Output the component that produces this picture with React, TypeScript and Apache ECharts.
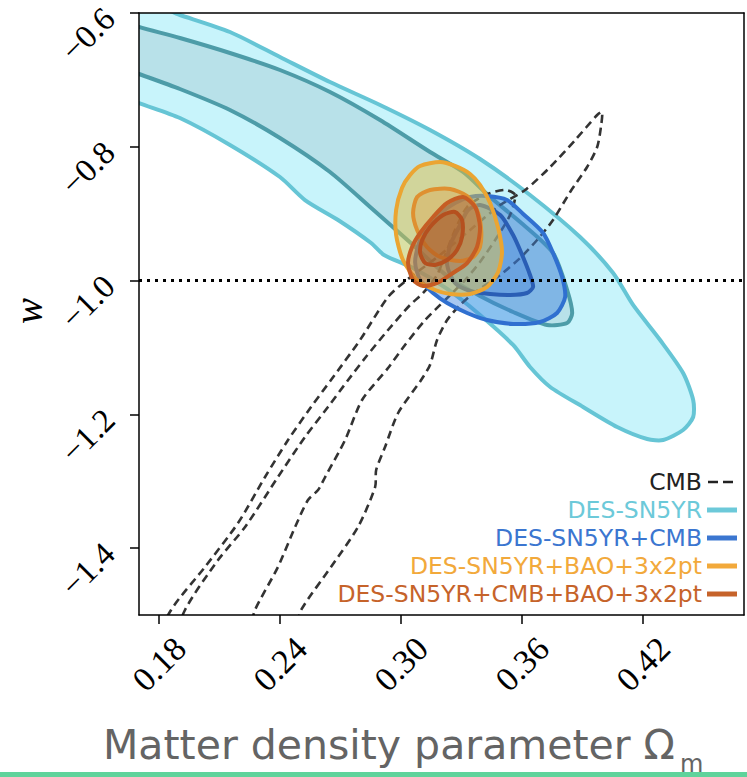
import React, { useEffect, useRef } from 'react';
import * as echarts from 'echarts';

type P = [number, number];

const X_TICKS = [0.18, 0.24, 0.3, 0.36, 0.42];
const Y_TICKS = [-1.4, -1.2, -1.0, -0.8, -0.6];
const X_MIN = 0.17;
const X_MAX = 0.47;
const Y_MIN = -1.5;
const Y_MAX = -0.6;
const W_REF = -1.0;
// the rotated y tick labels sit a little below their ticks (about 0.03 in w)
const Y_LABEL_SHIFT = 0.032;

const LEGEND_NAMES = ['CMB', 'DES-SN5YR', 'DES-SN5YR+CMB', 'DES-SN5YR+BAO+3x2pt', 'DES-SN5YR+CMB+BAO+3x2pt'];
const LEGEND_COLORS = ['#222222', '#6cc9d9', '#3b76d0', '#f2a93b', '#c6632a'];

// DES-SN5YR contours (2 sigma, 1 sigma)
const SN_OUTER: P[] = [
  [0.1606, -0.5731], [0.1903, -0.603], [0.2151, -0.6284], [0.2399, -0.6658], [0.2647, -0.7032], [0.2895, -0.7375],
  [0.3143, -0.7749], [0.3391, -0.8183], [0.3639, -0.8721], [0.3887, -0.9349], [0.4051, -0.9887], [0.415, -1.0365],
  [0.4284, -1.0889], [0.4398, -1.1382], [0.4448, -1.1786], [0.4448, -1.204], [0.4398, -1.2234], [0.4299, -1.2384],
  [0.422, -1.2369], [0.4071, -1.2189], [0.3902, -1.189], [0.3739, -1.1591], [0.3639, -1.1292], [0.3555, -1.0963],
  [0.3391, -1.0515], [0.3228, -1.0126], [0.3059, -0.9812], [0.2915, -0.9618], [0.2851, -0.9439], [0.2687, -0.9095],
  [0.2523, -0.8796], [0.2399, -0.8452], [0.2151, -0.7973], [0.1903, -0.757], [0.17, -0.7346], [0.1507, -0.7121],
];
const SN_INNER: P[] = [
  [0.1507, -0.603], [0.17, -0.6209], [0.1903, -0.6374], [0.2151, -0.6598], [0.2399, -0.6852], [0.2647, -0.7181],
  [0.2895, -0.76], [0.3143, -0.8078], [0.3307, -0.8377], [0.3441, -0.8751], [0.359, -0.9125], [0.3753, -0.9588],
  [0.3823, -1.0141], [0.3848, -1.0485], [0.3823, -1.0635], [0.3724, -1.0664], [0.3555, -1.047], [0.3391, -1.0231],
  [0.3228, -0.9932], [0.3059, -0.9468], [0.2846, -0.89], [0.2647, -0.8377], [0.2399, -0.7869], [0.2151, -0.745],
  [0.1903, -0.7136], [0.17, -0.6912], [0.1507, -0.6703],
];

// CMB contours (dashed)
const CMB_OUTER: P[] = [
  [0.1804, -1.5374], [0.1859, -1.4925], [0.2027, -1.4282], [0.2191, -1.3625], [0.2325, -1.2937], [0.2439, -1.2384],
  [0.2553, -1.189], [0.2652, -1.1487], [0.2796, -1.0889], [0.2935, -1.0246], [0.3034, -0.9977], [0.3193, -0.9618],
  [0.3342, -0.9244], [0.3491, -0.887], [0.3615, -0.8646], [0.3739, -0.8302], [0.3863, -0.7899], [0.3972, -0.7525],
  [0.3996, -0.748], [0.3992, -0.7674], [0.3972, -0.8003], [0.3922, -0.8302], [0.3838, -0.8676], [0.3753, -0.9095],
  [0.3674, -0.9394], [0.359, -0.9663], [0.3491, -0.9917], [0.3367, -1.0171], [0.3292, -1.0365], [0.3228, -1.059],
  [0.3178, -1.0889], [0.3143, -1.1262], [0.3099, -1.1487], [0.2985, -1.198], [0.292, -1.2488], [0.2876, -1.2832],
  [0.2871, -1.3086], [0.2786, -1.3684], [0.2652, -1.4282], [0.2504, -1.4925], [0.2449, -1.5374],
];
const CMB_INNER: P[] = [
  [0.1893, -1.5374], [0.1928, -1.4925], [0.2092, -1.4178], [0.2226, -1.3684], [0.2389, -1.2937], [0.2523, -1.2339],
  [0.2637, -1.189], [0.2737, -1.1487], [0.2821, -1.1158], [0.2935, -1.0739], [0.3044, -1.0365], [0.3109, -1.0186],
  [0.3178, -0.9917], [0.3218, -0.9618], [0.3267, -0.9244], [0.3327, -0.89], [0.3416, -0.8721], [0.3515, -0.8646],
  [0.3565, -0.8721], [0.354, -0.902], [0.3466, -0.9394], [0.3391, -0.9723], [0.3317, -0.9992], [0.3218, -1.0291],
  [0.3119, -1.059], [0.3019, -1.0963], [0.2935, -1.1307], [0.2806, -1.1786], [0.2722, -1.2384], [0.2623, -1.2937],
  [0.2588, -1.3131], [0.2538, -1.3281], [0.2474, -1.3684], [0.2389, -1.4282], [0.2275, -1.4925], [0.2226, -1.5374],
];

// DES-SN5YR+CMB
const SNCMB_OUTER: P[] = [
  [0.3426, -0.8736], [0.3525, -0.8796], [0.3605, -0.9005], [0.3704, -0.9289], [0.3753, -0.9588], [0.3798, -0.9947],
  [0.3813, -1.0246], [0.3773, -1.0485], [0.3689, -1.062], [0.3555, -1.0649], [0.3426, -1.059], [0.3327, -1.0485],
  [0.3228, -1.0336], [0.3158, -1.0186], [0.3094, -0.9992], [0.3069, -0.9723], [0.3094, -0.9394], [0.3168, -0.9065],
  [0.3267, -0.8841], [0.3342, -0.8751],
];
const SNCMB_INNER: P[] = [
  [0.3391, -0.887], [0.3491, -0.902], [0.3555, -0.9319], [0.36, -0.9618], [0.3639, -0.9917], [0.3654, -1.0096],
  [0.3624, -1.0186], [0.354, -1.0216], [0.3441, -1.0201], [0.3342, -1.0156], [0.3267, -1.0037], [0.3228, -0.9767],
  [0.3243, -0.9468], [0.3292, -0.9169], [0.3332, -0.8945],
];

// DES-SN5YR+BAO+3x2pt
const SNBAO_OUTER: P[] = [
  [0.3094, -0.8287], [0.3193, -0.8228], [0.3267, -0.8287], [0.3342, -0.8407], [0.3391, -0.8571], [0.3441, -0.8841],
  [0.3481, -0.9214], [0.35, -0.9573], [0.3481, -0.9872], [0.3426, -1.0096], [0.3342, -1.0201], [0.3243, -1.0201],
  [0.3168, -1.0141], [0.3079, -0.9992], [0.3009, -0.9693], [0.2975, -0.9319], [0.2975, -0.8945], [0.3004, -0.8616],
  [0.3044, -0.8422],
];
const SNBAO_INNER: P[] = [
  [0.3079, -0.8751], [0.3143, -0.8646], [0.3243, -0.8631], [0.3327, -0.8736], [0.3376, -0.8945], [0.3396, -0.9214],
  [0.3391, -0.9498], [0.3357, -0.9648], [0.3292, -0.9708], [0.3193, -0.9648], [0.3128, -0.9498], [0.3079, -0.9244],
  [0.3059, -0.899],
];

// DES-SN5YR+CMB+BAO+3x2pt
const ALL_OUTER: P[] = [
  [0.3307, -0.8751], [0.3367, -0.89], [0.3391, -0.9199], [0.3376, -0.9498], [0.3327, -0.9738], [0.3257, -0.9887],
  [0.3178, -1.0037], [0.3109, -1.0081], [0.3059, -0.9992], [0.3034, -0.9738], [0.3054, -0.9498], [0.3094, -0.9289],
  [0.3158, -0.905], [0.3228, -0.8841],
];
const ALL_INNER: P[] = [
  [0.3267, -0.8975], [0.3302, -0.9095], [0.3302, -0.9349], [0.3277, -0.9543], [0.3228, -0.9693], [0.3168, -0.9767],
  [0.3119, -0.9738], [0.3094, -0.9588], [0.3104, -0.9394], [0.3143, -0.9199], [0.3208, -0.902],
];

type Sty = { fill: string; stroke: string; lineWidth: number; lineDash?: number[] };

function contourSeries(name: string, color: string, contours: P[][], styles: Sty[]) {
  return {
    type: 'custom',
    name,
    coordinateSystem: 'cartesian2d',
    xAxisIndex: 0,
    yAxisIndex: 0,
    clip: true,
    silent: true,
    itemStyle: { color },
    encode: { x: 0, y: 1 },
    data: contours.map((c, i) => {
      const cx = c.reduce((s, p) => s + p[0], 0) / c.length;
      const cy = c.reduce((s, p) => s + p[1], 0) / c.length;
      return [cx, cy, i];
    }),
    renderItem: (params: any, api: any) => {
      const i = api.value(2);
      const pts = contours[i].map((p) => api.coord(p));
      const cs = params.coordSys;
      return {
        type: 'polygon',
        shape: { points: pts, smooth: 0.25 },
        style: { ...styles[i], lineJoin: 'round' },
        clipPath: { type: 'rect', shape: { x: cs.x, y: cs.y, width: cs.width, height: cs.height } },
      };
    },
  };
}

const CMB_ICON = 'path://M0 0Z M30 5Z M1 1.2H11V3.8H1Z M16 1.2H26V3.8H16Z';

export default function App() {
  const ref = useRef<HTMLDivElement>(null);
  useEffect(() => {
    if (!ref.current) return;
    const chart = echarts.init(ref.current, undefined, { renderer: 'svg' });
    const serif = 'Liberation Serif';
    const sans = 'DejaVu Sans';
    const axisCommon = {
      type: 'value',
      z: 10,
      splitLine: { show: false },
      axisLine: { show: true, onZero: false, lineStyle: { color: '#000', width: 1.5 } },
    };
    const option: any = {
      animation: false,
      backgroundColor: '#fff',
      grid: { left: 139, right: 3, top: 13, bottom: 162, outerBoundsMode: 'none' },
      xAxis: [
        {
          ...axisCommon,
          min: X_MIN,
          max: X_MAX,
          position: 'bottom',
          axisTick: { show: true, inside: false, length: 9, customValues: X_TICKS, lineStyle: { color: '#000', width: 1.5 } },
          axisLabel: {
            customValues: X_TICKS,
            rotate: 45,
            align: 'center',
            verticalAlign: 'middle',
            margin: 49,
            fontFamily: serif,
            fontSize: 34,
            color: '#000',
            formatter: (v: number) => v.toFixed(2),
          },
        },
        { ...axisCommon, min: X_MIN, max: X_MAX, position: 'top', axisTick: { show: false }, axisLabel: { show: false } },
      ],
      yAxis: [
        {
          ...axisCommon,
          min: Y_MIN,
          max: Y_MAX,
          position: 'left',
          axisTick: { show: true, inside: false, length: 9, customValues: Y_TICKS, lineStyle: { color: '#000', width: 1.5 } },
          axisLabel: { show: false },
        },
        { ...axisCommon, min: Y_MIN, max: Y_MAX, position: 'right', axisTick: { show: false }, axisLabel: { show: false } },
        {
          type: 'value',
          min: Y_MIN + Y_LABEL_SHIFT,
          max: Y_MAX + Y_LABEL_SHIFT,
          position: 'left',
          offset: 0,
          z: 10,
          splitLine: { show: false },
          axisLine: { show: false },
          axisTick: { show: false },
          axisLabel: {
            customValues: Y_TICKS,
            rotate: 45,
            align: 'center',
            verticalAlign: 'middle',
            margin: 51,
            fontFamily: serif,
            fontSize: 33,
            color: '#000',
            formatter: (v: number) => (v < 0 ? '\u2212' : '') + Math.abs(v).toFixed(1),
          },
        },
      ],
      legend: {
        orient: 'vertical',
        right: 5,
        top: 465,
        align: 'right',
        itemWidth: 30,
        itemHeight: 5,
        itemGap: 4,
        selectedMode: false,
        textStyle: { fontFamily: sans, fontSize: 23.5, lineHeight: 23 },
        data: LEGEND_NAMES.map((n, i) => ({
          name: n,
          icon: i === 0 ? CMB_ICON : 'rect',
          itemStyle: { color: LEGEND_COLORS[i], borderWidth: 0 },
          textStyle: { color: LEGEND_COLORS[i] },
        })),
      },
      series: [
        contourSeries(LEGEND_NAMES[1], LEGEND_COLORS[1], [SN_OUTER, SN_INNER], [
          { fill: '#c8f4fb', stroke: '#66c5d5', lineWidth: 4 },
          { fill: '#b8e1e9', stroke: '#4d9ca8', lineWidth: 4 },
        ]),
        contourSeries(LEGEND_NAMES[0], LEGEND_COLORS[0], [CMB_OUTER, CMB_INNER], [
          { fill: 'none', stroke: '#333333', lineWidth: 2.6, lineDash: [8, 5] },
          { fill: 'none', stroke: '#333333', lineWidth: 2.6, lineDash: [8, 5] },
        ]),
        contourSeries(LEGEND_NAMES[2], LEGEND_COLORS[2], [SNCMB_OUTER, SNCMB_INNER], [
          { fill: 'rgba(60,130,225,0.45)', stroke: '#3070d0', lineWidth: 4 },
          { fill: 'rgba(55,120,215,0.3)', stroke: '#2a5eb5', lineWidth: 4 },
        ]),
        contourSeries(LEGEND_NAMES[3], LEGEND_COLORS[3], [SNBAO_OUTER, SNBAO_INNER], [
          { fill: 'rgba(240,200,60,0.45)', stroke: '#eba532', lineWidth: 4 },
          { fill: 'rgba(225,150,50,0.3)', stroke: '#df9030', lineWidth: 4 },
        ]),
        contourSeries(LEGEND_NAMES[4], LEGEND_COLORS[4], [ALL_OUTER, ALL_INNER], [
          { fill: 'rgba(185,95,40,0.4)', stroke: '#c65d24', lineWidth: 4 },
          { fill: 'rgba(165,80,30,0.35)', stroke: '#b5501f', lineWidth: 4 },
        ]),
        {
          type: 'line',
          name: 'w = -1',
          xAxisIndex: 0,
          yAxisIndex: 0,
          silent: true,
          showSymbol: false,
          data: [[X_MIN, W_REF], [X_MAX, W_REF]],
          lineStyle: { color: '#000', width: 3, type: [3, 5] },
          z: 5,
        },
      ],
      graphic: [
        {
          type: 'text',
          x: 28,
          y: 311,
          rotation: Math.PI / 2,
          style: { text: 'w', font: 'italic 39px "Liberation Serif"', fill: '#000', align: 'center', verticalAlign: 'middle' },
        },
        {
          type: 'text',
          x: 103,
          y: 745,
          style: { text: 'Matter density parameter \u03a9', font: '41px "DejaVu Sans"', fill: '#646464', align: 'left', verticalAlign: 'middle' },
        },
        {
          type: 'text',
          x: 680,
          y: 764,
          style: { text: 'm', font: '24px "DejaVu Sans"', fill: '#646464', align: 'left', verticalAlign: 'middle' },
        },
        { type: 'rect', shape: { x: 0, y: 772, width: 747, height: 5 }, style: { fill: '#5fd39b' }, z: 100 },
      ],
    };
    chart.setOption(option);
    return () => chart.dispose();
  }, []);
  return <div ref={ref} style={{ position: 'absolute', left: 0, top: 0, width: 747, height: 777 }} />;
}
